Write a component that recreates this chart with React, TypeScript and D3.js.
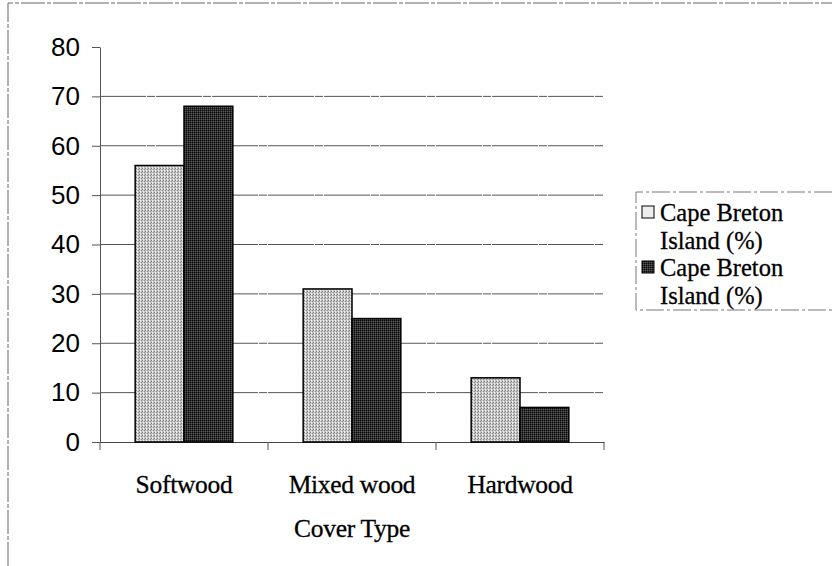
import { useEffect, useRef } from 'react';
import * as d3 from 'd3';

const categories = ['Softwood', 'Mixed wood', 'Hardwood'];
const seriesLines = [['Cape Breton', 'Island (%)'], ['Cape Breton', 'Island (%)']];
const seriesA = [56, 31, 13];
const seriesB = [68, 25, 7];
const yTicks = [0, 10, 20, 30, 40, 50, 60, 70, 80];

const App = () => {
  const ref = useRef<SVGSVGElement | null>(null);

  useEffect(() => {
    const svg = d3.select(ref.current);
    svg.selectAll('*').remove();

    const left = 100, right = 604, top = 47, bottom = 442;
    const serif = '"Liberation Serif", "Times New Roman", serif';

    const defs = svg.append('defs');
    // dithered fills like the scanned original
    const lightPat = defs.append('pattern').attr('id', 'lightFill')
      .attr('width', 3).attr('height', 3).attr('patternUnits', 'userSpaceOnUse');
    lightPat.append('rect').attr('width', 3).attr('height', 3).attr('fill', '#c2c2c2');
    lightPat.append('rect').attr('width', 1).attr('height', 1).attr('fill', '#7c7c7c');
    lightPat.append('rect').attr('x', 2).attr('y', 1).attr('width', 1).attr('height', 1).attr('fill', '#909090');
    lightPat.append('rect').attr('x', 1).attr('y', 2).attr('width', 1).attr('height', 1).attr('fill', '#f4f4f4');
    lightPat.append('rect').attr('x', 1).attr('y', 0).attr('width', 1).attr('height', 1).attr('fill', '#e6e6e6');
    const darkPat = defs.append('pattern').attr('id', 'darkFill')
      .attr('width', 2).attr('height', 2).attr('patternUnits', 'userSpaceOnUse');
    darkPat.append('rect').attr('width', 2).attr('height', 2).attr('fill', '#2e2e2e');
    darkPat.append('rect').attr('width', 1).attr('height', 1).attr('fill', '#0a0a0a');
    darkPat.append('rect').attr('x', 1).attr('y', 1).attr('width', 1).attr('height', 1).attr('fill', '#5a5a5a');

    // outer chart border (top and left visible)
    svg.append('path')
      .attr('d', `M8,566 L8,3 L832,3`)
      .attr('fill', 'none').attr('stroke', '#666').attr('stroke-width', 1)
      .attr('stroke-dasharray', '24,2,4,2');

    const x = d3.scaleBand().domain(categories).range([left, right]).paddingInner(0).paddingOuter(0);
    const inner = d3.scaleBand().domain(['a', 'b']).range([0, x.bandwidth()]).paddingInner(0).paddingOuter(0.72);
    const y = d3.scaleLinear().domain([0, 80]).range([bottom, top]);

    // gridlines (none at the top value)
    svg.append('g').selectAll('line')
      .data(yTicks.filter(t => t > 0 && t < 80))
      .enter().append('line')
      .attr('x1', left).attr('x2', right)
      .attr('y1', d => y(d)).attr('y2', d => y(d))
      .attr('stroke', '#555').attr('stroke-width', 1)
      .attr('stroke-dasharray', '46,1,8,1');

    // y axis
    const yAxis = svg.append('g')
      .attr('transform', `translate(${left},0)`)
      .call(d3.axisLeft(y).tickValues(yTicks).tickSize(8).tickPadding(12).tickSizeOuter(0));
    yAxis.select('.domain').attr('stroke', '#555');
    yAxis.selectAll('.tick line').attr('stroke', '#555');
    yAxis.selectAll('text')
      .attr('font-family', '"Liberation Sans", Arial, sans-serif')
      .attr('font-size', 26).attr('fill', '#000');

    // x axis
    const xAxis = svg.append('g')
      .attr('transform', `translate(0,${bottom})`)
      .call(d3.axisBottom(x).tickSize(0).tickPadding(33).tickSizeOuter(0));
    xAxis.select('.domain').attr('stroke', '#444');
    xAxis.selectAll('text')
      .attr('font-family', serif)
      .attr('font-size', 25.5).attr('fill', '#000')
      .attr('stroke', '#000').attr('stroke-width', 0.3)
      .attr('letter-spacing', -0.3);
    svg.append('g').selectAll('line')
      .data(categories.map(c => x(c)!).concat([right]))
      .enter().append('line')
      .attr('x1', d => d).attr('x2', d => d)
      .attr('y1', bottom).attr('y2', bottom + 8)
      .attr('stroke', '#555');

    const groups = svg.append('g').selectAll('g')
      .data(categories)
      .enter().append('g')
      .attr('transform', d => `translate(${x(d)},0)`);

    groups.append('rect')
      .attr('x', inner('a')!)
      .attr('y', (_, i) => y(seriesA[i]))
      .attr('width', inner.bandwidth())
      .attr('height', (_, i) => bottom - y(seriesA[i]))
      .attr('fill', 'url(#lightFill)')
      .attr('stroke', '#000').attr('stroke-width', 1.5);

    groups.append('rect')
      .attr('x', inner('b')!)
      .attr('y', (_, i) => y(seriesB[i]))
      .attr('width', inner.bandwidth())
      .attr('height', (_, i) => bottom - y(seriesB[i]))
      .attr('fill', 'url(#darkFill)')
      .attr('stroke', '#000').attr('stroke-width', 1.5);

    // axis title
    svg.append('text')
      .attr('x', (left + right) / 2).attr('y', 537)
      .attr('text-anchor', 'middle')
      .attr('font-family', serif)
      .attr('font-size', 25.5)
      .attr('stroke', '#000').attr('stroke-width', 0.3)
      .attr('letter-spacing', -0.3)
      .text('Cover Type');

    // legend
    const lg = svg.append('g');
    lg.append('path')
      .attr('d', 'M832,192 L636,192 L636,310 L832,310')
      .attr('fill', 'none').attr('stroke', '#777').attr('stroke-width', 1)
      .attr('stroke-dasharray', '18,3,3,3');
    const items = lg.selectAll('g.item')
      .data(seriesLines)
      .enter().append('g')
      .attr('class', 'item')
      .attr('transform', (_, i) => `translate(642,${206 + i * 55})`);
    items.append('rect')
      .attr('width', 12).attr('height', 12)
      .attr('fill', (_, i) => i === 0 ? '#eee' : 'url(#darkFill)')
      .attr('stroke', '#000').attr('stroke-width', 1);
    items.selectAll('text')
      .data(d => d)
      .enter().append('text')
      .attr('x', 18).attr('y', (_, j) => 15 + j * 28)
      .attr('font-family', serif)
      .attr('font-size', 24.5).attr('fill', '#000')
      .attr('stroke', '#000').attr('stroke-width', 0.3)
      .text(d => d);
  }, []);

  return (
    <svg ref={ref} width={832} height={566}
      style={{ position: 'absolute', left: 0, top: 0, background: '#fff' }} />
  );
};

export default App;
